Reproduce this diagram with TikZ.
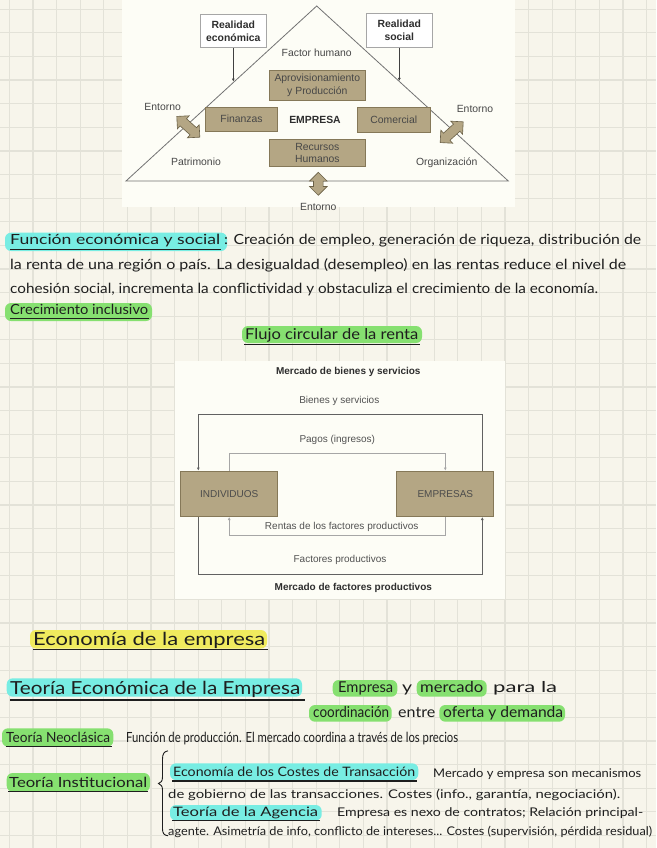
\documentclass[tikz,border=0pt]{standalone}
\usepackage{fontspec}
\usepackage{graphicx}
\setmainfont{Liberation Sans}
\newfontfamily\hwf{Lato}
\usetikzlibrary{shapes.arrows,arrows.meta}
\definecolor{paper}{HTML}{F7F5EB}
\definecolor{gridc}{HTML}{E3E2D8}
\definecolor{figbg}{HTML}{FDFDF6}
\definecolor{tanc}{HTML}{B4A684}
\definecolor{tanedge}{HTML}{857858}
\definecolor{hlcyan}{HTML}{78EDE3}
\definecolor{hlgreen}{HTML}{86E070}
\definecolor{hlyellow}{HTML}{F0EB5E}
\definecolor{ink}{HTML}{1E1E1E}
\newcommand\hwt[3][14]{\resizebox{#2pt}{\height}{\hwf\fontsize{#1}{#1}\selectfont #3}}
\tikzset{
  hw/.style={anchor=base west, inner sep=0pt, text=ink},
  uline/.style={draw=ink, line width=1.1pt},
  hlc/.style={fill=hlcyan, rounded corners=6pt},
  hlg/.style={fill=hlgreen, rounded corners=6pt},
  hly/.style={fill=hlyellow, rounded corners=6pt},
  lbl/.style={inner sep=0pt, text=black!72, font=\fontsize{10.4}{12}\selectfont},
  lblb/.style={inner sep=0pt, text=black!82, font=\bfseries\fontsize{10.4}{12.5}\selectfont, align=center},
  tanbox/.style={draw=tanedge, fill=tanc, line width=0.7pt, inner sep=0pt, align=center, text=black!72, font=\fontsize{10.4}{12.5}\selectfont},
  realbox/.style={draw=black!35, fill=white, line width=0.9pt, inner sep=0pt, minimum width=66.7pt, minimum height=33.5pt},
  dblarrow/.style={double arrow, draw=tanedge!80!black, fill=tanc, line width=0.6pt, inner sep=4.5pt, double arrow head extend=4pt},
  lbl2/.style={inner sep=0pt, text=black!68, font=\fontsize{10}{12}\selectfont},
  lbl2b/.style={inner sep=0pt, text=black!82, font=\bfseries\fontsize{10}{12}\selectfont},
  tanbox2/.style={draw=tanedge, fill=tanc, line width=0.8pt, inner sep=0pt, minimum width=97pt, minimum height=45.7pt, text=black!70, font=\fontsize{10}{12}\selectfont},
  tipc/.style={-{Latex[length=3pt,width=3pt]}},
  outerl/.style={draw=black!62, line width=0.9pt},
  innerl/.style={draw=black!35, line width=0.9pt},
}
\begin{document}
\begin{tikzpicture}[x=1pt,y=-1pt]
\useasboundingbox (0,0) rectangle (656,848);
% paper and grid
\fill[paper] (0,0) rectangle (656,848);
\foreach \i in {0,...,27} \draw[gridc, line width=1.2pt] ({9.3+23.6*\i},0) -- ({9.3+23.6*\i},848);
\foreach \i in {0,...,35} \draw[gridc, line width=1.2pt] (0,{9.3+23.6*\i}) -- (656,{9.3+23.6*\i});

% ===== top figure =====
\fill[figbg] (122,0) rectangle (515,207);
\coordinate (apex) at (316.7,6);
\coordinate (bl) at (126,181);
\coordinate (br) at (508.3,181);
\draw[black!55, line width=0.8pt] (apex) -- (br) -- (bl) -- cycle;
\node[realbox] (reco) at (233.3,31.2) {};
\node[lblb] (recot) at (reco.center) {Realidad\\económica};
\node[realbox] (rsoc) at (399.3,30.4) {};
\node[lblb] (rsoct) at (rsoc.center) {Realidad\\social};
\coordinate (ea) at (234.3,81.6);
\coordinate (eb) at (398.7,80.9);
\draw[tipc, black!75, line width=0.6pt] (reco.south) -- (reco.south |- ea);
\draw[tipc, black!75, line width=0.6pt] (rsoc.south) -- (rsoc.south |- eb);
\node[lbl] (fh) at (316.7,52.7) {Factor humano};
\node[tanbox, minimum width=96.7pt, minimum height=29.3pt] (apro) at (317.3,85.3) {Aprovisionamiento\\y Producción};
\node[tanbox, minimum width=71.6pt, minimum height=23.7pt] (fin) at (241.5,119.2) {Finanzas};
\node[lblb] (empr) at (315,120) {EMPRESA};
\node[tanbox, minimum width=72.7pt, minimum height=25pt] (com) at (393.7,120.2) {Comercial};
\node[tanbox, minimum width=96.7pt, minimum height=27.4pt] (rh) at (317.3,153) {Recursos\\Humanos};
\node[lbl] (pat) at (196,161.7) {Patrimonio};
\node[lbl] (org) at (446.7,162.3) {Organización};
\node[lbl] (ent1) at (162.7,106.7) {Entorno};
\node[lbl] (ent2) at (475,109.3) {Entorno};
\node[lbl] (ent3) at (318.3,206.5) {Entorno};
\node[dblarrow, minimum height=31pt, rotate=-42] (da1) at (188.3,126.8) {};
\node[dblarrow, minimum height=31pt, rotate=42] (da2) at (451.7,132.2) {};
\node[dblarrow, minimum height=23pt, rotate=90] (da3) at (318.3,183.8) {};

% ===== paragraph =====
\fill[hlc] (5,232.7) rectangle (227,251);
\node[hw] (p1a) at (10,244.5) {\hwt{210}{Función económica y social}};
\draw[uline] (10,249.5) -- (221,249.5);
\node[hw] (p1b) at (224,244.5) {\hwt{417}{: Creación de empleo, generación de riqueza, distribución de}};
\node[hw] (p2) at (10,269) {\hwt{616}{la renta de una región o país. La desigualdad (desempleo) en las rentas reduce el nivel de}};
\node[hw] (p3) at (10,293) {\hwt{588}{cohesión social, incrementa la conflictividad y obstaculiza el crecimiento de la economía.}};
\fill[hlg] (5,303) rectangle (152,321);
\node[hw] (p4) at (10,314.5) {\hwt{138}{Crecimiento inclusivo}};
\draw[uline] (10,318.5) -- (149,318.5);

% ===== circular flow =====
\fill[hlg] (242,326) rectangle (422,343);
\node[hw] (fct) at (245,339.5) {\hwt[15]{173}{Flujo circular de la renta}};
\draw[uline] (244,344.5) -- (420,344.5);
\fill[figbg] (175,361) rectangle (505,599);
\node[lbl2b] (mbs) at (348.3,371.7) {Mercado de bienes y servicios};
\node[lbl2] (bys) at (339.3,400.7) {Bienes y servicios};
\node[lbl2] (pag) at (337.3,440) {Pagos (ingresos)};
\node[tanbox2] (ind) at (229.2,493.8) {INDIVIDUOS};
\node[tanbox2] (emp) at (445.3,493.8) {EMPRESAS};
\coordinate (otl) at (198.3,414.3);
\coordinate (otr) at (482.3,414.3);
\coordinate (itl) at (229.2,453.3);
\coordinate (itr) at (445.3,453.3);
\coordinate (ibl) at (229.2,535);
\coordinate (ibr) at (445.3,535);
\coordinate (obl) at (198.3,574);
\coordinate (obr) at (482.3,574);
\draw[outerl, tipc] (emp.north -| otr) -- (otr) -- (otl) -- (ind.north -| otl);
\draw[innerl, tipc] (ind.north) -- (itl) -- (itr) -- (emp.north);
\draw[innerl, tipc] (emp.south) -- (ibr) -- (ibl) -- (ind.south);
\draw[outerl, tipc] (ind.south -| obl) -- (obl) -- (obr) -- (emp.south -| obr);
\node[lbl2] (rfp) at (341.7,526.7) {Rentas de los factores productivos};
\node[lbl2] (fp) at (340,560) {Factores productivos};
\node[lbl2b] (mfp) at (353.3,588.3) {Mercado de factores productivos};

% ===== bottom notes =====
\fill[hly] (30,630) rectangle (267,648.5);
\node[hw] (ede) at (33,645) {\hwt[18]{232}{Economía de la empresa}};
\draw[uline] (33,649.8) -- (268,649.8);

\fill[hlc] (6.7,678.3) rectangle (302,696.7);
\node[hw] (tee) at (10,694) {\hwt[18]{290}{Teoría Económica de la Empresa}};
\draw[uline] (10,700) -- (305,700);

\fill[hlg] (332.7,680) rectangle (397.3,696.7);
\fill[hlg] (416.7,680) rectangle (486.7,696.7);
\node[hw] (eym1) at (338,692.5) {\hwt[15]{55}{Empresa}};
\node[hw] (eym2) at (402,692.5) {\hwt[15]{10}{y}};
\node[hw] (eym3) at (420,692.5) {\hwt[15]{63}{mercado}};
\node[hw] (eym4) at (493,692.5) {\hwt[15]{64}{para la}};
\fill[hlg] (309,705) rectangle (391.7,721.7);
\fill[hlg] (439.3,705) rectangle (565,721.7);
\node[hw] (coo1) at (313,717) {\hwt[15]{76}{coordinación}};
\node[hw] (coo2) at (398,717) {\hwt[15]{37}{entre}};
\node[hw] (coo3) at (443,717) {\hwt[15]{120}{oferta y demanda}};

\fill[hlg] (2,728.3) rectangle (113.3,746.7);
\node[hw] (tn) at (6,742.5) {\hwt{104}{Teoría Neoclásica}};
\draw[uline] (6,746.8) -- (112,746.8);
\node[hw] (tnx) at (126,742.5) {\hwt{332}{Función de producción. El mercado coordina a través de los precios}};

\fill[hlg] (6.7,773) rectangle (150,791.7);
\node[hw] (ti) at (9,787) {\hwt{138}{Teoría Institucional}};
\draw[uline] (8,791.5) -- (148,791.5);
\draw[ink, line width=0.9pt] (168,750.8) .. controls (164,751.5) and (162.5,754) .. (162.5,759) -- (162.5,777) .. controls (162.5,781) and (161,783) .. (158.5,783.5) .. controls (161,784.5) and (162.5,786) .. (162.5,790) -- (162.5,829) .. controls (162.5,833) and (164,835.5) .. (168,835.7);

\fill[hlc] (170,763.3) rectangle (418.3,780);
\node[hw] (ect) at (173,776.5) {\hwt[13]{242}{Economía de los Costes de Transacción}};
\draw[uline] (172,781) -- (417,781);
\node[hw] (ectx) at (433,777) {\hwt[12]{208}{Mercado y empresa son mecanismos}};
\node[hw] (ectx2) at (168,798) {\hwt[12]{452}{de gobierno de las transacciones. Costes (info., garantía, negociación).}};
\fill[hlc] (170,805) rectangle (321.7,820.5);
\node[hw] (tda) at (173,816) {\hwt[13]{145}{Teoría de la Agencia}};
\draw[uline] (172,820.5) -- (320,820.5);
\node[hw] (tdax) at (337,816.5) {\hwt[12]{306}{Empresa es nexo de contratos; Relación principal-}};
\node[hw] (tdax2) at (168,835) {\hwt[12]{484}{agente. Asimetría de info, conflicto de intereses... Costes (supervisión, pérdida residual)}};
\end{tikzpicture}
\end{document}
